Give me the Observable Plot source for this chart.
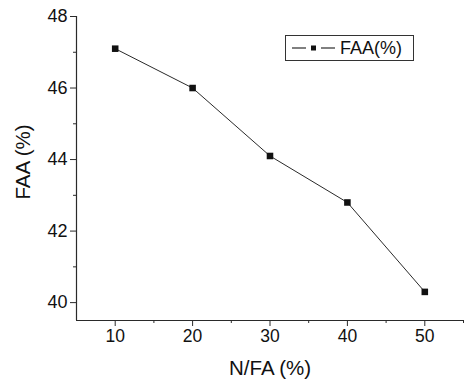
<!DOCTYPE html>
<html><head><meta charset="utf-8">
<script src="https://cdn.jsdelivr.net/npm/d3@7"></script>
<script src="https://cdn.jsdelivr.net/npm/@observablehq/plot@0.6"></script>
<style>
body{margin:0;background:#fff;font-family:"Liberation Sans",Arial,sans-serif}
#wrap{position:relative;width:464px;height:383px}
#legend{position:absolute;left:285px;top:35px;width:129px;height:26px;border:1px solid #333;box-sizing:border-box;background:#fff;display:flex;align-items:center;font-size:18px;color:#111}
#legend svg{margin-left:6px;margin-right:4px}
</style></head>
<body><div id="wrap"><div id="legend"></div></div>
<script>
const ratio=[10,20,30,40,50];
const faa=[47.1,46.0,44.1,42.8,40.3];
const xTicks=[10,20,30,40,50];
const xMinor=[15,25,35,45,55];
const yTicks=[40,42,44,46,48];
const yMinor=[41,43,45,47];
const xTitle="N/FA (%)";
const yTitle="FAA (%)";
const seriesName="FAA(%)";
const data=ratio.map((r,i)=>({r,v:faa[i]}));
const ink="#2a2a2a";
const chart=Plot.plot({
  width:464,height:383,
  marginLeft:76,marginRight:1,marginTop:16,marginBottom:63,
  style:{fontFamily:"'Liberation Sans',Arial,sans-serif",color:ink,background:"#fff"},
  x:{domain:[5,55]},
  y:{domain:[39.5,48]},
  marks:[
    Plot.ruleX([5],{stroke:ink,strokeWidth:1.2}),
    Plot.ruleY([39.5],{stroke:ink,strokeWidth:1.2}),
    Plot.axisX(xTicks,{tickSize:6,fontSize:17.5,tickPadding:3,label:null,stroke:ink,fill:"#111"}),
    Plot.axisX(xMinor,{tickSize:3,text:null,label:null,stroke:ink}),
    Plot.axisY(yTicks,{tickSize:6,fontSize:18,tickPadding:3,label:null,stroke:ink,fill:"#111"}),
    Plot.axisY(yMinor,{tickSize:3,text:null,label:null,stroke:ink}),
    Plot.text([xTitle],{frameAnchor:"bottom",lineAnchor:"middle",textAnchor:"middle",dy:48,fontSize:20.5,fill:"#111"}),
    Plot.text([yTitle],{frameAnchor:"left",textAnchor:"middle",lineAnchor:"middle",rotate:-90,dx:-53,dy:-6.5,fontSize:20.5,fill:"#111"}),
    Plot.line(data,{x:"r",y:"v",stroke:ink,strokeWidth:1}),
    Plot.dot(data,{x:"r",y:"v",symbol:"square",fill:"#111",stroke:"none",r:3.7})
  ]
});
document.getElementById("wrap").prepend(chart);
const lg=document.getElementById("legend");
lg.innerHTML=`<svg width="44" height="10"><line x1="0" y1="5" x2="14" y2="5" stroke="${ink}" stroke-width="1.2"/><rect x="19" y="2.5" width="5" height="5" fill="#111"/><line x1="29" y1="5" x2="43" y2="5" stroke="${ink}" stroke-width="1.2"/></svg><span>${seriesName}</span>`;
</script>
</body></html>
